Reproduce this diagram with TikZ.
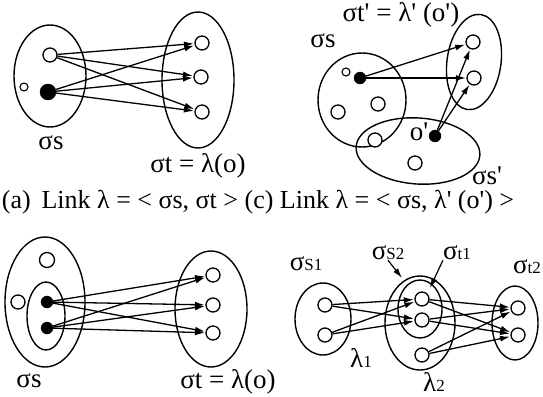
\documentclass[tikz,border=0pt]{standalone}
\usepackage{fontspec}
\setmainfont{Liberation Serif}
\usetikzlibrary{
  positioning,
  arrows.meta,
  shapes.geometric
}
\newcommand{\pr}{\textquotesingle}

\begin{document}
\begin{tikzpicture}[
  x=1pt, y=-1pt,
  >={Latex[length=10pt,width=6pt]},
  obj/.style={circle, draw, line width=1.3pt, fill=white, minimum size=14pt, inner sep=0pt},
  tinyobj/.style={circle, draw, line width=1.1pt, fill=white, minimum size=8pt, inner sep=0pt},
  blackobj/.style={circle, draw, fill=black, minimum size=12pt, inner sep=0pt},
  setbox/.style={ellipse, draw, line width=1.4pt, inner sep=0pt},
  lnk/.style={->, line width=1.3pt, shorten >=0.5pt},
  lbl/.style={font=\fontsize{27}{29}\selectfont, inner sep=0pt}
]
\useasboundingbox (0,0) rectangle (543,396);

% (a) top left
\node[setbox, minimum width=72pt, minimum height=102pt] (as) at (50,76) {};
\node[setbox, minimum width=72pt, minimum height=136pt] (at) at (198,80) {};
\node[obj] (a1) at (50,55) {};
\node[tinyobj] (a0) at (24,87) {};
\node[blackobj, minimum size=16pt] (a2) at (48,92) {};
\node[obj] (b1) at (202,43) {};
\node[obj] (b2) at (201,77) {};
\node[obj] (b3) at (202,112) {};
\foreach \s in {a1,a2}
  \foreach \t in {b1,b2,b3}
    \draw[lnk] (\s) -- (\t);
\node[lbl] (asl) at (51,143) {σs};
\node[lbl] (atl) at (198,166) {σt = λ(o)};

% (c) top right
\node[setbox, minimum width=88pt, minimum height=94pt] (cs) at (362,100) {};
\node[setbox, minimum width=54pt, minimum height=96pt, rotate=-8] (ct) at (474,62) {};
\node[setbox, minimum width=124pt, minimum height=66pt, rotate=-4] (cs2) at (418,151) {};
\node[tinyobj] (c0) at (346,72) {};
\node[blackobj] (c1) at (360,78) {};
\node[obj] (c2) at (338,112) {};
\node[obj] (c3) at (378,104) {};
\node[obj] (c4) at (375,140) {};
\node[obj] (c5) at (415,163) {};
\node[lbl] (c6) at (419,132) {o\pr};
\node[blackobj] (c7) at (435,136) {};
\node[obj] (d1) at (473,42) {};
\node[obj] (d2) at (474,78) {};
\foreach \s in {c1,c7}
  \foreach \t in {d1,d2}
    \draw[lnk] (\s) -- (\t);
\node[lbl] (csl) at (323,41) {σs};
\node[lbl] (ctl) at (401,15) {σt\pr{} = λ\pr{} (o\pr)};
\node[lbl] (cs2l) at (487,176) {σs\pr};

% captions
\node[lbl, font=\fontsize{26}{28}\selectfont] (cap) at (258,202) {(a)\, Link λ = < σs, σt > (c) Link λ = < σs, λ\pr{} (o\pr) >};

% (b) bottom left
\node[setbox, minimum width=80pt, minimum height=130pt] (bs) at (45,302) {};
\node[setbox, minimum width=38pt, minimum height=68pt] (bi) at (46,316) {};
\node[obj, minimum size=15pt] (e0) at (47,260) {};
\node[obj] (e1) at (18,302) {};
\node[blackobj] (e2) at (47,302) {};
\node[blackobj] (e3) at (47,328) {};
\node[setbox, minimum width=72pt, minimum height=116pt] (bt) at (211,309) {};
\node[obj] (f1) at (213,275) {};
\node[obj] (f2) at (213,305) {};
\node[obj] (f3) at (213,333) {};
\foreach \s in {e2,e3}
  \foreach \t in {f1,f2,f3}
    \draw[lnk] (\s) -- (\t);
\node[lbl] (bsl) at (29,381) {σs};
\node[lbl] (btl) at (228,382) {σt = λ(o)};

% (d) bottom right
\node[setbox, minimum width=56pt, minimum height=72pt] (ds1) at (323,319) {};
\node[setbox, minimum width=70pt, minimum height=94pt] (ds2) at (420,323) {};
\node[setbox, minimum width=44pt, minimum height=58pt] (dt1) at (420,309) {};
\node[setbox, minimum width=46pt, minimum height=74pt] (dt2) at (515,323) {};
\node[obj] (g1) at (325,305) {};
\node[obj] (g2) at (325,335) {};
\node[obj] (h1) at (422,299) {};
\node[obj] (h2) at (422,320) {};
\node[obj] (h3) at (422,355) {};
\node[obj] (k1) at (518,308) {};
\node[obj] (k2) at (518,335) {};
\foreach \s in {g1,g2}
  \foreach \t in {h1,h2}
    \draw[lnk] (\s) -- (\t);
\foreach \s in {h1,h2,h3}
  \foreach \t in {k1,k2}
    \draw[lnk] (\s) -- (\t);
\node[lbl] (ds1l) at (306,264) {σ{\fontsize{17}{19}\selectfont S1}};
\node[lbl] (ds2l) at (388,253) {σ{\fontsize{17}{19}\selectfont S2}};
\node[lbl] (dt1l) at (457,253) {σ{\fontsize{17}{19}\selectfont t1}};
\node[lbl] (dt2l) at (527,267) {σ{\fontsize{17}{19}\selectfont t2}};
\node[lbl] (l1) at (361,358) {λ{\fontsize{17}{19}\selectfont 1}};
\node[lbl] (l2) at (434,382) {λ{\fontsize{17}{19}\selectfont 2}};
\coordinate (ds2tip) at (402,278);
\coordinate (dt1tip) at (430,288);
\draw[->, line width=1.2pt] (ds2l.south) -- (ds2tip);
\draw[->, line width=1.2pt] (dt1l.south west) -- (dt1tip);

\end{tikzpicture}
\end{document}
